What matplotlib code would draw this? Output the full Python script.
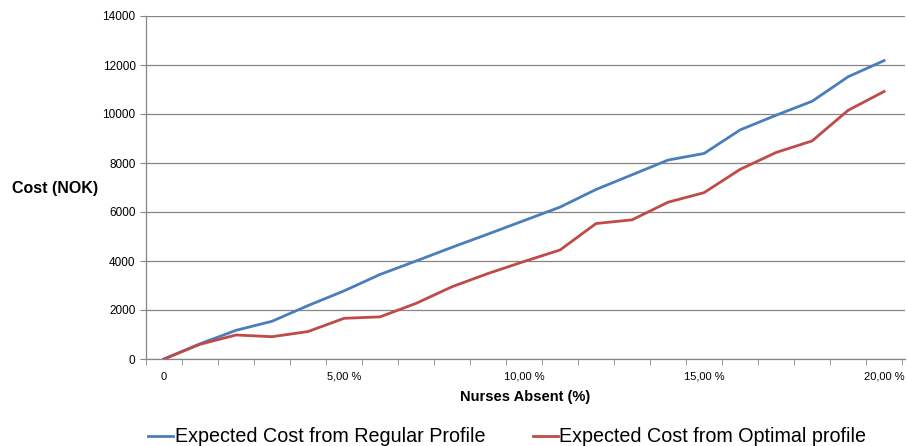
import matplotlib
matplotlib.use("Agg")
import matplotlib.pyplot as plt
import numpy as np

# absence levels 0..20 % in steps of 1 %
absent_pct = list(range(21))
regular_cost = [0, 620, 1170, 1540, 2180, 2780, 3450, 4000, 4560, 5100, 5650,
                6200, 6920, 7520, 8120, 8390, 9350, 9950, 10520, 11520, 12180]
optimal_cost = [0, 600, 980, 910, 1120, 1660, 1720, 2270, 2950, 3490, 3980,
                4450, 5530, 5680, 6400, 6790, 7740, 8430, 8900, 10150, 10920]
tick_labels = {0: "0", 5: "5,00 %", 10: "10,00 %", 15: "15,00 %", 20: "20,00 %"}

blue = "#4A7EBB"
red = "#BE4B48"
grey = "#868686"

plt.rcParams["font.family"] = ["Liberation Sans", "DejaVu Sans"]

fig = plt.figure(figsize=(9.07, 4.46), dpi=100)
ax = fig.add_axes([146 / 907, 87 / 446, 759 / 907, 343 / 446])

x = np.array(absent_pct)
ax.plot(x, regular_cost, color=blue, lw=2.0, label="Expected Cost from Regular Profile")
ax.plot(x, optimal_cost, color=red, lw=2.0, label="Expected Cost from Optimal profile")

ax.set_xlim(-0.5, 20.58)
ax.set_ylim(0, 14000)
ax.set_yticks(np.arange(0, 14001, 2000))
ax.yaxis.grid(True, color=grey, lw=0.9)
ax.set_axisbelow(True)

# labels sit on categories, tick marks between them
ax.set_xticks(list(tick_labels.keys()))
ax.set_xticklabels(list(tick_labels.values()))
ax.set_xticks(np.arange(-0.5, 20.6, 1), minor=True)
ax.tick_params(axis="x", which="major", length=0, pad=9, labelsize=8)
ax.tick_params(axis="x", which="minor", length=4, color=grey, direction="out")
ax.tick_params(axis="y", length=4, color=grey, labelsize=8.5, pad=3.5)

for side in ["top", "right"]:
    ax.spines[side].set_visible(False)
for side in ["left", "bottom"]:
    ax.spines[side].set_color(grey)
    ax.spines[side].set_linewidth(0.9)

fig.text(55 / 907, 1 - 188 / 446, "Cost (NOK)", fontsize=11.5, fontweight="bold",
         ha="center", va="center")
fig.text(525 / 907, 1 - 397 / 446, "Nurses Absent (%)", fontsize=10.5, fontweight="bold",
         ha="center", va="center")

fig.legend(loc="center left", bbox_to_anchor=(148 / 907, 1 - 437 / 446), ncol=2,
           frameon=False, fontsize=14.2, handlelength=1.26, handletextpad=0.1,
           columnspacing=2.4, borderpad=0, borderaxespad=0)

fig.savefig("out.png", dpi=100)
